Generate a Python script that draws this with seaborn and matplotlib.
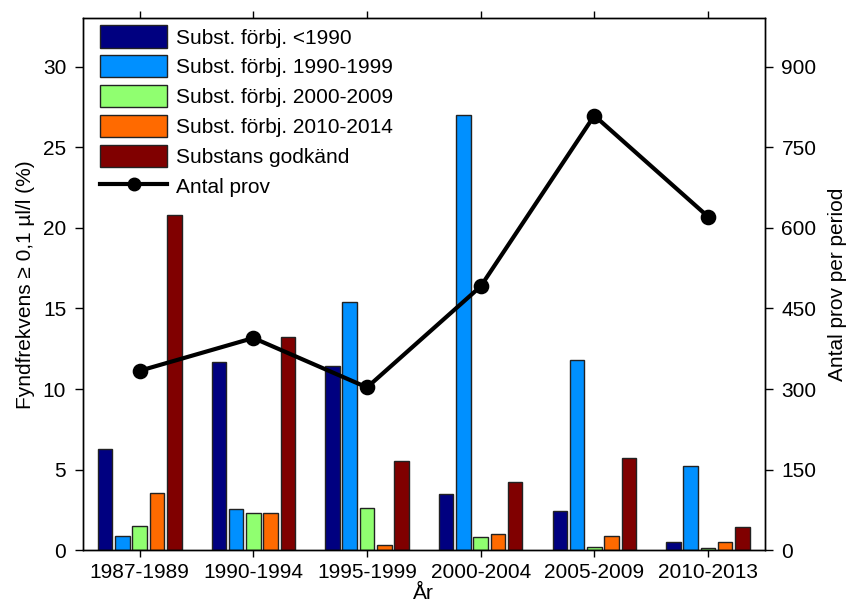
"""Fyndfrekvens per period with antal prov on a second axis."""

import matplotlib

matplotlib.use("Agg")
import matplotlib.pyplot as plt
from matplotlib.lines import Line2D
import pandas as pd
import seaborn as sns

periods = ["1987-1989", "1990-1994", "1995-1999", "2000-2004", "2005-2009", "2010-2013"]
series_names = [
    "Subst. förbj. <1990",
    "Subst. förbj. 1990-1999",
    "Subst. förbj. 2000-2009",
    "Subst. förbj. 2010-2014",
    "Substans godkänd",
]
forbj_pre1990 = [6.3, 11.7, 11.4, 3.5, 2.45, 0.5]
forbj_1990s = [0.9, 2.53, 15.4, 27.0, 11.8, 5.2]
forbj_2000s = [1.5, 2.28, 2.6, 0.83, 0.2, 0.14]
forbj_2010s = [3.57, 2.28, 0.3, 1.0, 0.91, 0.5]
godkand = [20.8, 13.2, 5.54, 4.23, 5.71, 1.43]
antal_prov = [334, 395, 303, 491, 809, 621]

colors = ["#000080", "#0090ff", "#90ff70", "#ff6a00", "#800000"]

plt.rcParams["font.family"] = ["Liberation Sans", "DejaVu Sans"]
plt.rcParams["font.size"] = 15

long = pd.DataFrame(
    {
        "period": periods * 5,
        "serie": [name for name in series_names for _ in periods],
        "value": forbj_pre1990 + forbj_1990s + forbj_2000s + forbj_2010s + godkand,
    }
)

fig = plt.figure(figsize=(8.46, 6.12), dpi=100)
ax = fig.add_axes([0.098, 0.101, 0.806, 0.869])

sns.barplot(
    data=long,
    x="period",
    y="value",
    hue="serie",
    order=periods,
    hue_order=series_names,
    palette=colors,
    width=0.76,
    gap=0.16,
    edgecolor="#222222",
    linewidth=1.0,
    saturation=1,
    ax=ax,
)
handles, labels = ax.get_legend_handles_labels()
ax.get_legend().remove()

# line goes on the twin axis, drawn over the bars
ax2 = ax.twinx()
sns.pointplot(
    x=periods,
    y=antal_prov,
    color="black",
    markers="o",
    markersize=9,
    linewidth=3,
    ax=ax2,
)

ax.set_xlim(-0.5, 5.5)
ax.set_ylim(0, 33)
ax2.set_ylim(0, 990)
ax.set_yticks([0, 5, 10, 15, 20, 25, 30])
ax2.set_yticks([0, 150, 300, 450, 600, 750, 900])

ax.set_xlabel("År", labelpad=2)
ax.set_ylabel("Fyndfrekvens ≥ 0,1 µl/l (%)", labelpad=6)
ax2.set_ylabel("Antal prov per period", labelpad=8)

for a in (ax, ax2):
    for spine in a.spines.values():
        spine.set_visible(True)
        spine.set_color("black")
        spine.set_linewidth(1.0)
ax.tick_params(axis="x", top=True, bottom=True, direction="out", length=5, width=1, pad=4)
ax.tick_params(axis="y", direction="out", length=6, width=1, pad=6)
ax2.tick_params(axis="y", direction="out", length=6, width=1, pad=6)

line_handle = Line2D([], [], color="black", linewidth=3, marker="o", markersize=9)
ax2.legend(
    handles + [line_handle],
    labels + ["Antal prov"],
    loc="upper left",
    bbox_to_anchor=(0.004, 1.014),
    frameon=False,
    handlelength=3.2,
    handleheight=1.25,
    handletextpad=0.45,
    labelspacing=0.38,
    borderaxespad=0.3,
)

fig.savefig("out.png", dpi=100)
